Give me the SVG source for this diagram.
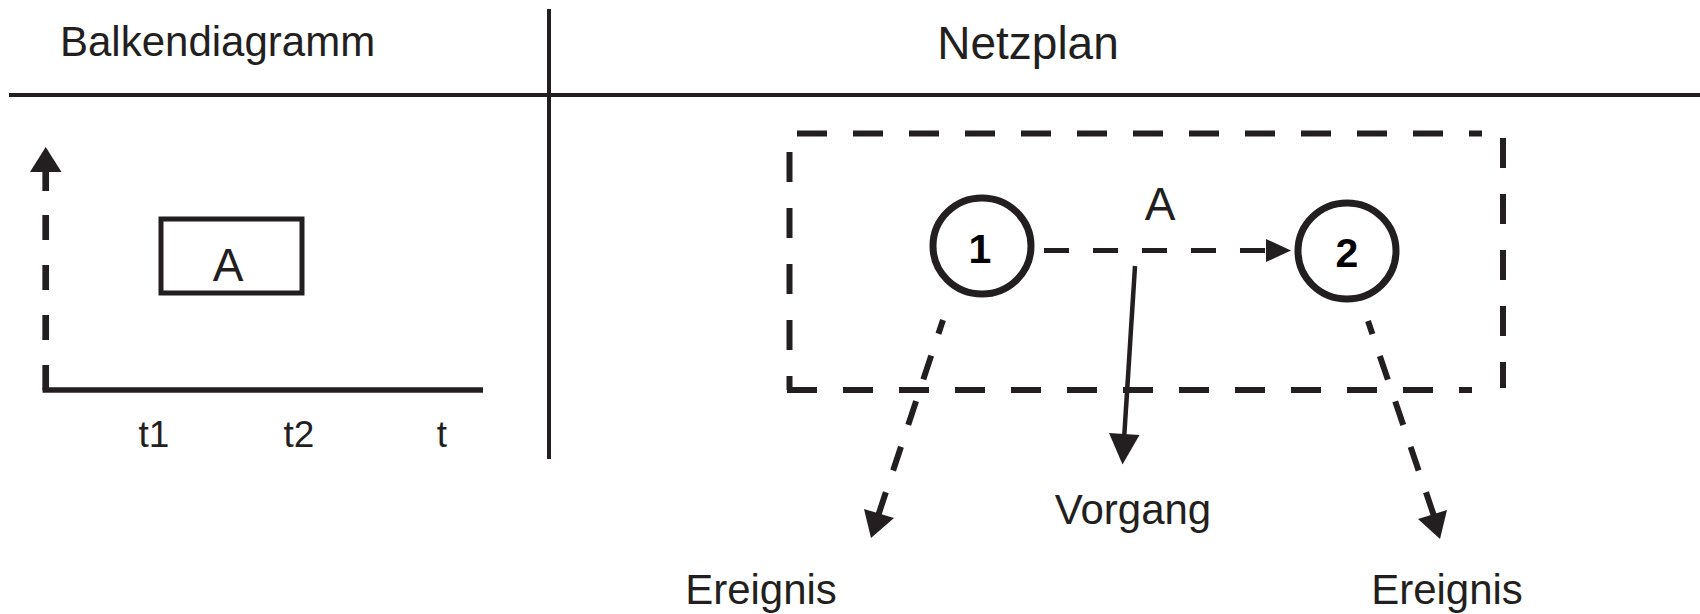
<svg xmlns="http://www.w3.org/2000/svg" width="1700" height="614" viewBox="0 0 1700 614">
<defs>
<style>
.t{font-family:"Liberation Sans",Arial,sans-serif;fill:#231f20}
.ln{stroke:#231f20;fill:none}
.dsh{stroke:#231f20;fill:none;stroke-width:6;stroke-dasharray:30 26}
.ah{fill:#231f20}
.num{font-family:"Liberation Sans",Arial,sans-serif;fill:#000;font-weight:bold;font-size:41px}
</style>
</defs>
<rect width="1700" height="614" fill="#ffffff"/>
<g id="frame">
<line class="ln" x1="9" y1="95" x2="1700" y2="95" stroke-width="4"/>
<line class="ln" x1="549" y1="9" x2="549" y2="459" stroke-width="4"/>
<text class="t" x="60" y="56" font-size="42">Balkendiagramm</text>
<text class="t" x="1028" y="59" font-size="46" text-anchor="middle">Netzplan</text>
</g>
<g id="balkendiagramm">
<line class="ln" x1="45.7" y1="390" x2="45.7" y2="215" stroke-width="6.7" stroke-dasharray="25 25"/>
<line class="ln" x1="45.7" y1="191" x2="45.7" y2="168" stroke-width="6.7"/>
<polygon class="ah" points="45.7,147 30,172 61.5,172"/>
<line class="ln" x1="42.5" y1="390" x2="483" y2="390" stroke-width="5.4"/>
<rect class="ln" x="161" y="219" width="141" height="74" stroke-width="5"/>
<text class="t" x="228" y="281" font-size="46" text-anchor="middle">A</text>
<text class="t" x="154" y="447" font-size="37" text-anchor="middle">t1</text>
<text class="t" x="299" y="447" font-size="37" text-anchor="middle">t2</text>
<text class="t" x="442" y="447" font-size="37" text-anchor="middle">t</text>
</g>
<g id="rahmen">
<line class="dsh" x1="797" y1="133.5" x2="1482" y2="133.5"/>
<line class="dsh" x1="789.5" y1="152" x2="789.5" y2="390"/>
<line class="dsh" x1="787" y1="390" x2="1472" y2="390"/>
<line class="dsh" x1="1503" y1="138" x2="1503" y2="388"/>
</g>
<g id="ereignis1">
<ellipse class="ln" cx="982" cy="246" rx="49" ry="48" stroke-width="7"/>
<text class="num" x="980" y="263" text-anchor="middle">1</text>
</g>
<g id="ereignis2">
<ellipse class="ln" cx="1347" cy="251" rx="49" ry="48" stroke-width="7"/>
<text class="num" x="1347" y="267" text-anchor="middle">2</text>
</g>
<g id="connectors">
<line class="ln" x1="1044" y1="250.5" x2="1268" y2="250.5" stroke-width="5" stroke-dasharray="25 24"/>
<polygon class="ah" points="1291,250.5 1266,239 1266,262"/>
<line class="ln" x1="1135" y1="266" x2="1124" y2="440" stroke-width="4.5"/>
<polygon class="ah" points="1122.5,464.5 1109,433 1139.5,435"/>
<line class="ln" x1="878" y1="516" x2="943" y2="320" stroke-width="6" stroke-dasharray="25 23"/>
<polygon class="ah" points="871,538 864,509 894,518"/>
<line class="ln" x1="1434" y1="516" x2="1368" y2="321" stroke-width="6" stroke-dasharray="25 23"/>
<polygon class="ah" points="1440,539 1418,519 1447,510"/>
</g>
<g id="labels">
<text class="t" x="1160" y="220" font-size="46" text-anchor="middle">A</text>
<text class="t" x="1133" y="524" font-size="42" text-anchor="middle">Vorgang</text>
<text class="t" x="761" y="604" font-size="42" text-anchor="middle">Ereignis</text>
<text class="t" x="1447" y="604" font-size="42" text-anchor="middle">Ereignis</text>
</g>
</svg>
